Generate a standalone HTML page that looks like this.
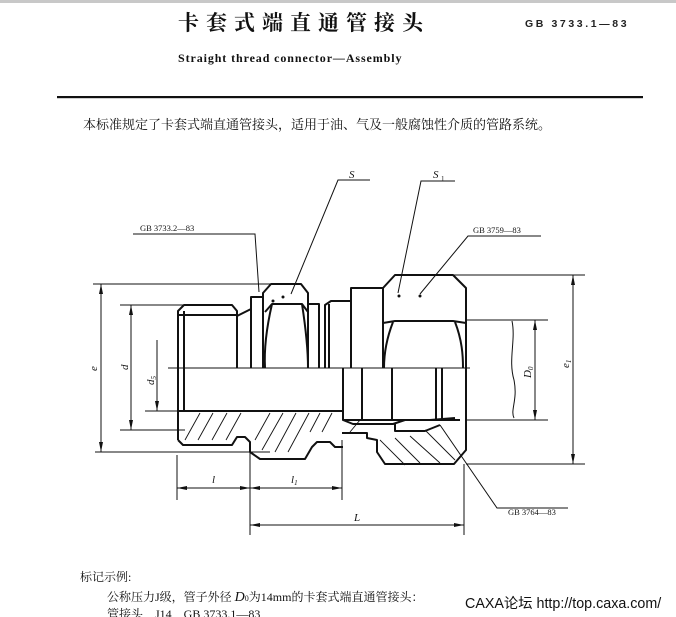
<!DOCTYPE html>
<html><head><meta charset="utf-8"><style>
html,body{margin:0;padding:0;background:#fff;width:676px;height:617px;overflow:hidden}
svg{display:block}
.cn{font-family:"Liberation Serif","Noto Serif CJK SC","Noto Sans CJK SC",serif}
</style></head><body>
<svg width="676" height="617" viewBox="0 0 676 617" xmlns="http://www.w3.org/2000/svg">
<rect x="0" y="0" width="676" height="3" fill="#c8c8c8"/>
<text x="178" y="30" class="cn" font-size="21" font-weight="bold" letter-spacing="7" fill="#111">卡套式端直通管接头</text>
<text x="525" y="27" font-family="Liberation Sans,sans-serif" font-weight="bold" font-size="10.5" letter-spacing="2.6" fill="#222">GB 3733.1—83</text>
<text x="178" y="62" font-family="Liberation Serif,serif" font-weight="bold" font-size="12" letter-spacing="0.9" fill="#111">Straight thread connector—Assembly</text>
<rect x="57" y="96" width="586" height="2.2" fill="#111"/>
<text x="83" y="129" class="cn" font-size="13" fill="#111">本标准规定了卡套式端直通管接头，适用于油、气及一般腐蚀性介质的管路系统。</text>

<g fill="none" stroke="#111" stroke-width="1">
<polyline points="370,180 338,180 291,294"/>
<polyline points="455,181 421,181 398,293"/>
<polyline points="133,234 255,234 259,292"/>
<polyline points="541,236 468,236 420,294"/>
<polyline points="568,508 497,508 440,425"/>
<line x1="93" y1="284" x2="270" y2="284"/>
<line x1="120" y1="305" x2="185" y2="305"/>
<line x1="95" y1="452" x2="270" y2="452"/>
<line x1="120" y1="430" x2="185" y2="430"/>
<line x1="145" y1="411" x2="185" y2="411"/>
<line x1="168" y1="368" x2="470" y2="368"/>
<line x1="440" y1="275" x2="585" y2="275"/>
<line x1="466" y1="320" x2="548" y2="320"/>
<line x1="466" y1="420" x2="548" y2="420"/>
<line x1="466" y1="464" x2="585" y2="464"/>
<path d="M512,321 C516,340 508,360 514,380 C518,400 510,410 514,418"/>
<line x1="101" y1="284" x2="101" y2="452"/>
<line x1="131" y1="305" x2="131" y2="430"/>
<line x1="157" y1="340" x2="157" y2="411"/>
<line x1="573" y1="275" x2="573" y2="464"/>
<line x1="535" y1="320" x2="535" y2="420"/>
<line x1="177" y1="455" x2="177" y2="500"/>
<line x1="250" y1="452" x2="250" y2="535"/>
<line x1="342" y1="440" x2="342" y2="500"/>
<line x1="464" y1="464" x2="464" y2="535"/>
<line x1="177" y1="488" x2="342" y2="488"/>
<line x1="250" y1="525" x2="464" y2="525"/>
</g>
<g fill="#111">
<path d="M101,284 l-2,10 h4z M101,452 l-2,-10 h4z M131,305 l-2,10 h4z M131,430 l-2,-10 h4z M157,411 l-2,-10 h4z M573,275 l-2,10 h4z M573,464 l-2,-10 h4z M535,320 l-2,10 h4z M535,420 l-2,-10 h4z"/>
<path d="M177,488 l10,-2 v4z M250,488 l-10,-2 v4z M250,488 l10,-2 v4z M342,488 l-10,-2 v4z M250,525 l10,-2 v4z M464,525 l-10,-2 v4z"/>
<circle cx="273" cy="301" r="1.5"/><circle cx="283" cy="297" r="1.5"/>
<circle cx="399" cy="296" r="1.5"/><circle cx="420" cy="296" r="1.5"/>
</g>
<g stroke="#111" stroke-width="0.9">
<line x1="185" y1="440" x2="200" y2="413"/><line x1="198" y1="440" x2="213" y2="413"/><line x1="212" y1="440" x2="227" y2="413"/><line x1="226" y1="440" x2="241" y2="413"/>
<line x1="255" y1="440" x2="270" y2="413"/><line x1="262" y1="450" x2="283" y2="413"/><line x1="275" y1="452" x2="296" y2="413"/><line x1="288" y1="452" x2="309" y2="413"/>
<line x1="310" y1="432" x2="320" y2="413"/><line x1="322" y1="432" x2="332" y2="413"/><line x1="350" y1="432" x2="360" y2="420"/>
<line x1="380" y1="440" x2="405" y2="465"/><line x1="395" y1="438" x2="420" y2="463"/><line x1="410" y1="436" x2="440" y2="463"/><line x1="425" y1="430" x2="455" y2="460"/>
</g>
<g fill="none" stroke="#111" stroke-width="2" stroke-linejoin="round">
<path d="M178,440 V311 l6,-6 H232 l5,6 V368"/>
<line x1="184" y1="311" x2="184" y2="411"/>
<line x1="178" y1="315" x2="237" y2="315"/>
<path d="M237,316 l14,-7 V297 h12"/>
<line x1="251" y1="297" x2="251" y2="368"/>
<path d="M263,368 V293 l8,-9 h30 l7,9 V368"/>
<path d="M265,312 l7,-8 h30 l6,8"/>
<path d="M272,304 C266,330 264,350 265,368 M302,304 C306,330 308,350 308,368"/>
<path d="M308,304 h11 V368"/>
<path d="M325,368 V305 l6,-4 h20 V368"/>
<line x1="329" y1="304" x2="329" y2="368"/>
<path d="M351,368 V288 h32 V368"/>
<path d="M383,368 V288 l12,-13 h58 l13,13 V450 l-12,14 H385 l-8,-12 V440 l-10,-2 V433 H342"/>
<path d="M383,323 l12,-2 h58 l13,2"/>
<path d="M393,322 C386,340 384,355 384,368 M455,322 C462,340 463,355 463,368"/>
<line x1="392" y1="368" x2="392" y2="420"/>
<line x1="436" y1="368" x2="436" y2="420"/>
<line x1="442" y1="368" x2="442" y2="420"/>
<line x1="343" y1="368" x2="343" y2="420"/>
<line x1="362" y1="368" x2="362" y2="420"/>
<path d="M178,411 H343 V420 H460"/>
<path d="M178,440 l5,5 H232 l5,-8 H245 l5,5 V452 l10,7 H305 l7,-12 l5,-5 H330 l5,5 H343"/>
<path d="M343,420 l10,4 h40 l12,-4 h25 l25,-2"/>
<path d="M395,424 V431 h30 l15,-6"/>
</g>
<g font-family="Liberation Serif,serif" font-style="italic" font-size="11" fill="#111">
<text x="349" y="178">S</text>
<text x="433" y="178">S</text><text x="441" y="181" font-size="7" font-style="normal">1</text>
<text x="97" y="371" transform="rotate(-90 97 371)">e</text>
<text x="128" y="370" transform="rotate(-90 128 370)">d</text>
<text x="154" y="385" transform="rotate(-90 154 385)">d<tspan font-size="7" dy="2">5</tspan></text>
<text x="531" y="378" transform="rotate(-90 531 378)">D<tspan font-size="7" dy="2">0</tspan></text>
<text x="569" y="368" transform="rotate(-90 569 368)">e<tspan font-size="7" dy="2">1</tspan></text>
<text x="212" y="483">l</text>
<text x="291" y="483">l<tspan font-size="7" dy="2">1</tspan></text>
<text x="354" y="521">L</text>
</g>
<g font-family="Liberation Serif,serif" font-size="8.5" fill="#111">
<text x="140" y="231">GB 3733.2—83</text>
<text x="473" y="233">GB 3759—83</text>
<text x="508" y="515">GB 3764—83</text>
</g>
<text x="80" y="581" class="cn" font-size="12" fill="#111">标记示例:</text>
<text x="107" y="601" class="cn" font-size="12" fill="#111">公称压力J级，管子外径 <tspan font-style="italic" font-size="14">D</tspan><tspan font-size="8">0</tspan>为14mm的卡套式端直通管接头：</text>
<text x="107" y="618" class="cn" font-size="12" fill="#111">管接头　J14　GB  3733.1—83</text>
<text x="465" y="608" font-family="Liberation Sans,'Noto Sans CJK SC',sans-serif" font-size="14.3" fill="#111">CAXA论坛 http://top.caxa.com/</text>
</svg>
</body></html>
